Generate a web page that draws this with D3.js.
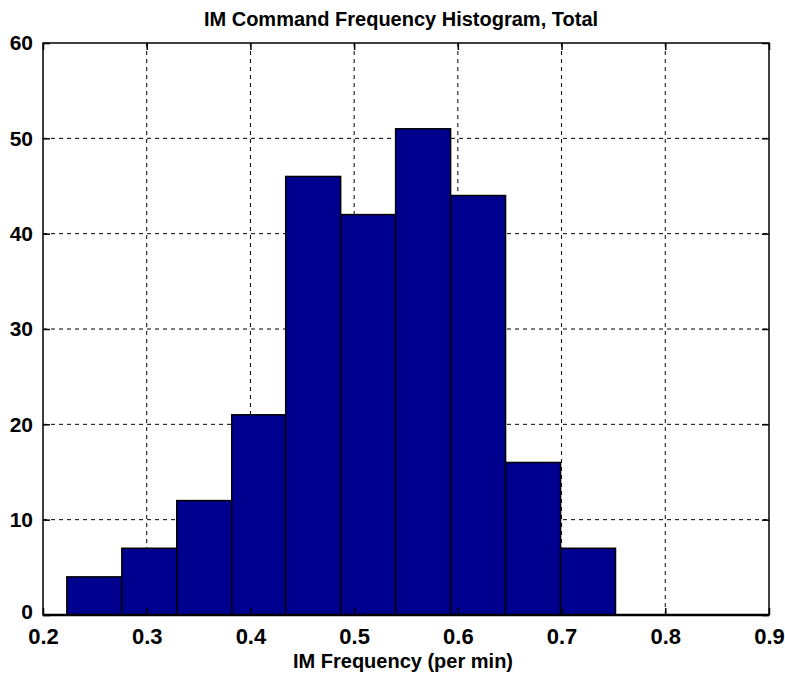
<!DOCTYPE html>
<html><head><meta charset="utf-8">
<script src="https://cdn.jsdelivr.net/npm/d3@7"></script>
<style>body{margin:0;background:#fff}svg{display:block}text{font-family:"Liberation Sans",Arial,sans-serif;font-weight:bold}</style>
</head><body>
<script>
const binEdges = [0.223, 0.276, 0.329, 0.382, 0.434, 0.487, 0.540, 0.593, 0.646, 0.699, 0.752];
const counts = [4, 7, 12, 21, 46, 42, 51, 44, 16, 7];
const xTicks = [0.2, 0.3, 0.4, 0.5, 0.6, 0.7, 0.8, 0.9];
const yTicks = [0, 10, 20, 30, 40, 50, 60];
const title = "IM Command Frequency Histogram, Total";
const xLabel = "IM Frequency (per min)";

const W = 785, H = 680;
const m = {left: 43, right: 16, top: 43, bottom: 65};
const svg = d3.select("body").append("svg").attr("width", W).attr("height", H);
const x = d3.scaleLinear().domain([0.2, 0.9]).range([m.left, W - m.right]);
const y = d3.scaleLinear().domain([0, 60]).range([H - m.bottom, m.top]);

// grid
const g = svg.append("g");
g.selectAll(".gx").data(xTicks.slice(1, -1)).join("line")
  .attr("x1", d => x(d)).attr("x2", d => x(d)).attr("y1", y(0)).attr("y2", y(60))
  .attr("stroke", "#000").attr("stroke-width", 1).attr("stroke-dasharray", "4,4");
g.selectAll(".gy").data(yTicks.slice(1, -1)).join("line")
  .attr("y1", d => y(d)).attr("y2", d => y(d)).attr("x1", x(0.2)).attr("x2", x(0.9))
  .attr("stroke", "#000").attr("stroke-width", 1).attr("stroke-dasharray", "4,4");

// bars
svg.append("g").selectAll("rect").data(counts).join("rect")
  .attr("x", (d, i) => x(binEdges[i]))
  .attr("width", (d, i) => x(binEdges[i + 1]) - x(binEdges[i]))
  .attr("y", d => y(d)).attr("height", d => y(0) - y(d))
  .attr("fill", "#00008F").attr("stroke", "#000").attr("stroke-width", 1.5);

// box
svg.append("rect").attr("x", x(0.2)).attr("y", y(60)).attr("width", x(0.9) - x(0.2)).attr("height", y(0) - y(60))
  .attr("fill", "none").attr("stroke", "#000").attr("stroke-width", 1.5);
svg.append("line").attr("x1", x(0.2)).attr("x2", x(0.9)).attr("y1", y(0)).attr("y2", y(0))
  .attr("stroke", "#000").attr("stroke-width", 2.5);

// axes (inner ticks)
const fmt = d3.format(".1f");
const xb = svg.append("g").attr("transform", `translate(0,${y(0)})`)
  .call(d3.axisBottom(x).tickValues(xTicks).tickFormat(fmt).tickSizeInner(-7).tickSizeOuter(0).tickPadding(13));
const xt = svg.append("g").attr("transform", `translate(0,${y(60)})`)
  .call(d3.axisTop(x).tickValues(xTicks).tickFormat("").tickSizeInner(-7).tickSizeOuter(0));
const yl = svg.append("g").attr("transform", `translate(${x(0.2)},0)`)
  .call(d3.axisLeft(y).tickValues(yTicks).tickFormat(d3.format("d")).tickSizeInner(-7).tickSizeOuter(0).tickPadding(10));
const yr = svg.append("g").attr("transform", `translate(${x(0.9)},0)`)
  .call(d3.axisRight(y).tickValues(yTicks).tickFormat("").tickSizeInner(-7).tickSizeOuter(0));
[xb, xt, yl, yr].forEach(a => {
  a.select(".domain").remove();
  a.selectAll(".tick line").attr("stroke", "#000").attr("stroke-width", 1.5);
  a.selectAll("text").attr("fill", "#000").style("font-family", "'Liberation Sans',Arial,sans-serif").style("font-weight", "bold");
});
xb.selectAll("text").style("font-size", "22px");
yl.selectAll("text").style("font-size", "21px");
yl.selectAll(".tick").filter(d => d === 0).select("text").attr("y", -3);

svg.append("text").attr("x", 401).attr("y", 26).attr("text-anchor", "middle")
  .style("font-size", "20px").text(title);
svg.append("text").attr("x", 403).attr("y", 668).attr("text-anchor", "middle")
  .style("font-size", "20px").text(xLabel);
</script>
</body></html>
